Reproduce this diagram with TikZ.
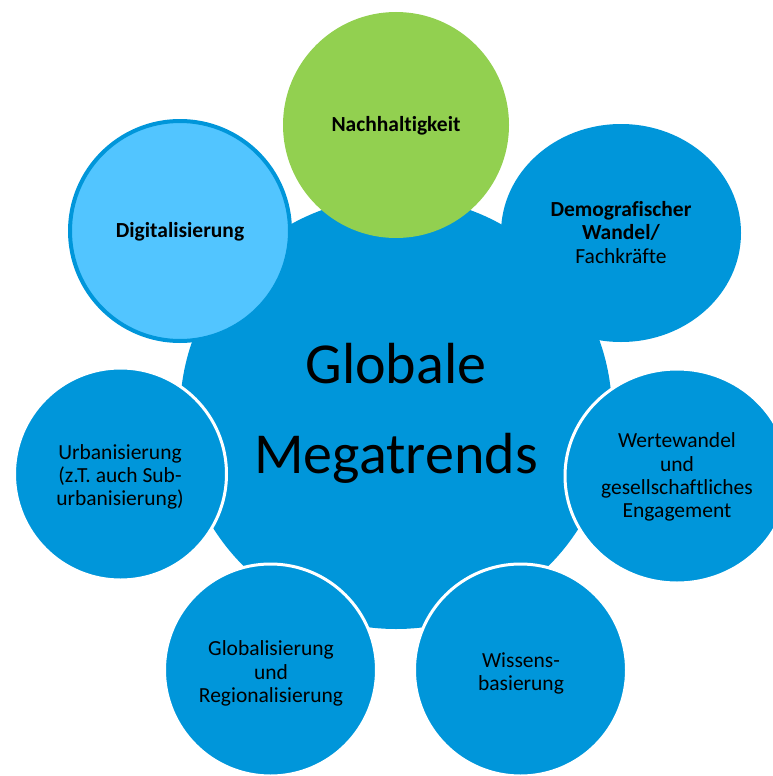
\documentclass[tikz,border=0pt]{standalone}
\usepackage{fontspec}
\setmainfont{Carlito}[Ligatures={NoCommon}]
\usetikzlibrary{shapes.geometric}
\definecolor{mainblue}{HTML}{0096DA}
\definecolor{lightblue}{HTML}{52C5FF}
\definecolor{leafgreen}{HTML}{92D050}
\begin{document}
\begin{tikzpicture}[x=1pt,y=-1pt,
  bubble/.style={circle, fill=mainblue, draw=white, line width=3pt, inner sep=0pt, minimum size=212pt},
  lbl/.style={align=center, inner sep=0pt, text=black, font=\fontsize{21.5}{23.3}\selectfont},
  biglbl/.style={align=center, inner sep=0pt, text=black, font=\fontsize{58}{90}\selectfont}
]
\useasboundingbox (0,0) rectangle (773,776);
\clip (0,0) rectangle (773,776);

% central circle
\node[circle, fill=mainblue, inner sep=0pt, minimum size=432pt] (center) at (396,413) {};

% satellites
\node[circle, fill=leafgreen, inner sep=0pt, minimum size=226pt] (nach) at (396,125) {};
\node[circle, fill=lightblue, draw=mainblue, line width=4pt, inner sep=0pt, minimum size=220pt] (digi) at (180,231) {};
\node[ellipse, fill=mainblue, inner sep=0pt, minimum width=240pt, minimum height=218pt] (demo) at (621,233) {};
\node[ellipse, fill=mainblue, draw=white, line width=3pt, inner sep=0pt, minimum width=224pt, minimum height=214pt] (werte) at (677,476) {};
\node[bubble] (wissen) at (520.5,670) {};
\node[bubble] (global) at (270.5,670) {};
\node[bubble] (urban) at (120.5,474) {};

% texts
\node[biglbl] (centertxt) at (396,410) {\strut Globale\\\strut Megatrends};
\node[lbl, anchor=base] (nachtxt) at (396,131) {\bfseries Nachhaltigkeit};
\node[lbl, anchor=base] (digitxt) at (180,237) {\bfseries Digitalisierung};
\node[lbl] (demotxt) at (621,235.2) {\strut\textbf{Demografischer}\\\strut\textbf{Wandel/}\\\strut Fachkräfte};
\node[lbl] (wertetxt) at (677,478.2) {\strut Wertewandel\\\strut und\\\strut gesellschaftliches\\\strut Engagement};
\node[lbl] (wissentxt) at (521,674.5) {\strut Wissens-\\\strut basierung};
\node[lbl] (globaltxt) at (271,674.5) {\strut Globalisierung\\\strut und\\\strut Regionalisierung};
\node[lbl] (urbantxt) at (120,477.8) {\strut Urbanisierung\\\strut (z.T. auch Sub-\\\strut urbanisierung)};
\end{tikzpicture}
\end{document}
